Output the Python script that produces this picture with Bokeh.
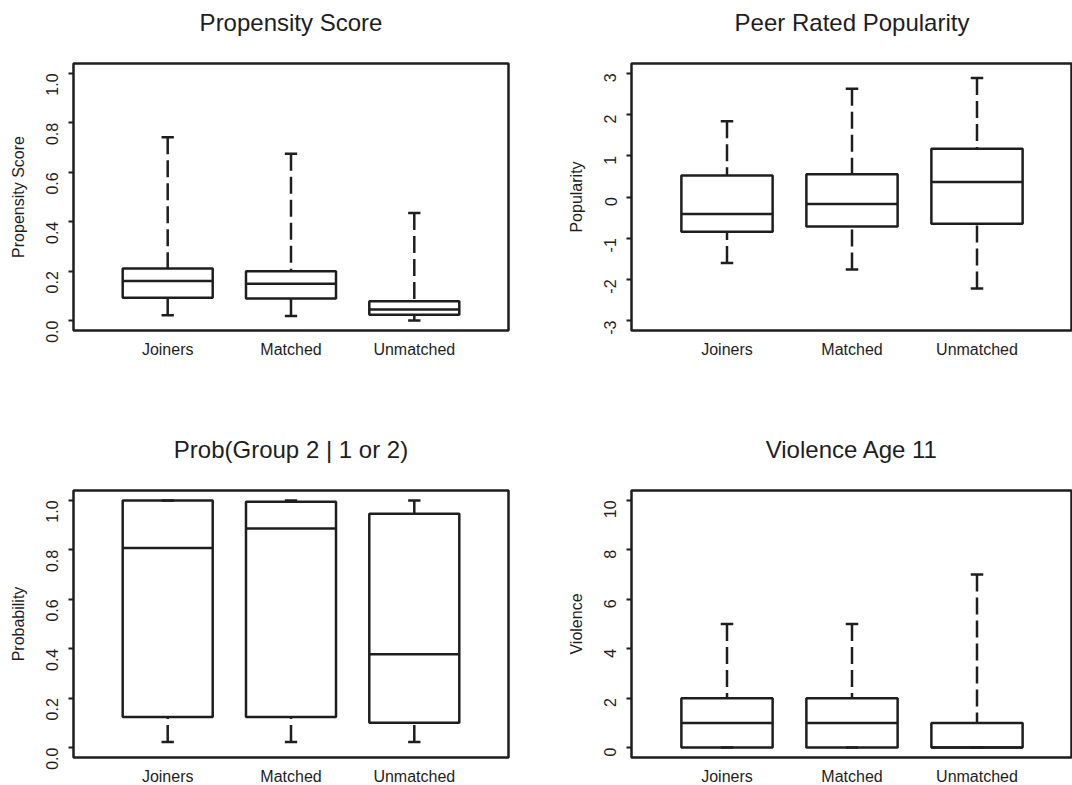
import math
from bokeh.plotting import figure
from bokeh.layouts import column, row
from bokeh.models import FixedTicker, Title
from bokeh.embed import file_html
from bokeh.resources import INLINE

# ---------------- data ----------------
groups = ["Joiners", "Matched", "Unmatched"]
positions = [1, 2, 3]

titles = ["Propensity Score", "Peer Rated Popularity", "Prob(Group 2 | 1 or 2)", "Violence Age 11"]
ylabels = ["Propensity Score", "Popularity", "Probability", "Violence"]

# five-number summaries (lower whisker, Q1, median, Q3, upper whisker)
prop_low = [0.022, 0.019, 0.000]
prop_q1 = [0.092, 0.089, 0.024]
prop_med = [0.160, 0.149, 0.045]
prop_q3 = [0.211, 0.200, 0.078]
prop_up = [0.742, 0.675, 0.435]

pop_low = [-1.60, -1.76, -2.22]
pop_q1 = [-0.846, -0.715, -0.65]
pop_med = [-0.415, -0.171, 0.366]
pop_q3 = [0.52, 0.553, 1.17]
pop_up = [1.84, 2.63, 2.89]

prob_low = [0.023, 0.023, 0.023]
prob_q1 = [0.124, 0.124, 0.101]
prob_med = [0.807, 0.886, 0.378]
prob_q3 = [1.0, 0.995, 0.946]
prob_up = [1.0, 1.0, 1.0]

vio_low = [0, 0, 0]
vio_q1 = [0, 0, 0]
vio_med = [1, 1, 0]
vio_q3 = [2, 2, 1]
vio_up = [5, 5, 7]

ticks_prop = [0.0, 0.2, 0.4, 0.6, 0.8, 1.0]
labels_prop = ["0.0", "0.2", "0.4", "0.6", "0.8", "1.0"]
ticks_pop = [-3, -2, -1, 0, 1, 2, 3]
labels_pop = ["-3", "-2", "-1", "0", "1", "2", "3"]
ticks_prob = [0.0, 0.2, 0.4, 0.6, 0.8, 1.0]
labels_prob = ["0.0", "0.2", "0.4", "0.6", "0.8", "1.0"]
ticks_vio = [0, 2, 4, 6, 8, 10]
labels_vio = ["0", "2", "4", "6", "8", "10"]

yranges = [(-0.04, 1.04), (-3.24, 3.24), (-0.04, 1.04), (-0.4, 10.4)]
xrange_all = (0.236, 3.764)

# ---------------- styling ----------------
FONT = "Liberation Sans"
INK = "#1e1e1e"
LW = 2.5
HALF_BOX = 0.365
HALF_STAPLE = 0.05
DASH = "17 6"


def make_panel(title, ylabel, low, q1, med, q3, up, ticks, tlabels, yr,
               frame_w, frame_h, bl, br, bt, bb):
    p = figure(frame_width=frame_w, frame_height=frame_h,
               x_range=xrange_all, y_range=yr,
               min_border_left=bl, min_border_right=br,
               min_border_top=bt, min_border_bottom=bb,
               output_backend="svg", toolbar_location=None,
               background_fill_color="white", border_fill_color="white")
    p.grid.visible = False
    p.outline_line_color = INK
    p.outline_line_width = LW

    # a blank second line lifts the title away from the frame (as in R's layout)
    p.title = Title(text=title + "\n ", align="center", text_font=FONT, text_font_size="24px",
                    text_font_style="normal", text_color=INK, text_line_height=1.0,
                    standoff=2, vertical_align="bottom")

    # boxes
    left = [x - HALF_BOX for x in positions]
    right = [x + HALF_BOX for x in positions]
    p.quad(left=left, right=right, bottom=q1, top=q3,
           fill_color="white", line_color=INK, line_width=LW)
    # medians
    p.segment(x0=left, x1=right, y0=med, y1=med, line_color=INK, line_width=LW)
    # whiskers: drawn from the whisker end toward the box (as R does)
    p.segment(x0=positions, x1=positions, y0=up, y1=q3,
              line_color=INK, line_width=LW, line_dash=DASH)
    p.segment(x0=positions, x1=positions, y0=low, y1=q1,
              line_color=INK, line_width=LW, line_dash=DASH)
    # staples
    sl = [x - HALF_STAPLE for x in positions]
    sr = [x + HALF_STAPLE for x in positions]
    p.segment(x0=sl, x1=sr, y0=up, y1=up, line_color=INK, line_width=LW)
    p.segment(x0=sl, x1=sr, y0=low, y1=low, line_color=INK, line_width=LW)

    # y axis
    ya = p.yaxis[0]
    ya.ticker = FixedTicker(ticks=ticks)
    ya.major_label_overrides = {tk: lb for tk, lb in zip(ticks, tlabels)}
    ya.major_label_orientation = math.pi / 2
    ya.axis_line_color = None
    ya.major_tick_line_color = INK
    ya.major_tick_line_width = 2
    ya.major_tick_out = 5
    ya.major_tick_in = 0
    ya.minor_tick_line_color = None
    ya.minor_tick_out = 0
    ya.major_label_text_font = FONT
    ya.major_label_text_font_size = "16px"
    ya.major_label_text_color = INK
    ya.major_label_standoff = 16
    ya.axis_label = ylabel
    ya.axis_label_text_font = FONT
    ya.axis_label_text_font_size = "16px"
    ya.axis_label_text_font_style = "normal"
    ya.axis_label_text_color = INK
    ya.axis_label_standoff = 11

    # x axis
    xa = p.xaxis[0]
    xa.ticker = FixedTicker(ticks=positions)
    xa.major_label_overrides = {x: g for x, g in zip(positions, groups)}
    xa.axis_line_color = None
    xa.major_tick_line_color = None
    xa.major_tick_out = 0
    xa.major_tick_in = 0
    xa.minor_tick_line_color = None
    xa.minor_tick_out = 0
    xa.major_label_text_font = FONT
    xa.major_label_text_font_size = "16px"
    xa.major_label_text_color = INK
    xa.major_label_standoff = 10
    return p


data = [
    (prop_low, prop_q1, prop_med, prop_q3, prop_up, ticks_prop, labels_prop),
    (pop_low, pop_q1, pop_med, pop_q3, pop_up, ticks_pop, labels_pop),
    (prob_low, prob_q1, prob_med, prob_q3, prob_up, ticks_prob, labels_prob),
    (vio_low, vio_q1, vio_med, vio_q3, vio_up, ticks_vio, labels_vio),
]

FH = 267
geom = [
    # frame_w, border left, right, top, bottom
    (435, 73, 52, 63, 97),
    (441, 71, 0, 63, 97),
    (435, 73, 52, 63, 28),
    (441, 71, 0, 63, 28),
]

panels = []
for i in range(4):
    low, q1, med, q3, up, tk, tl = data[i]
    fw, bl, br, bt, bb = geom[i]
    panels.append(make_panel(titles[i], ylabels[i], low, q1, med, q3, up, tk, tl,
                             yranges[i], fw, FH, bl, br, bt, bb))

layout = column(row(panels[0], panels[1]), row(panels[2], panels[3]))

open("out.html", "w").write(file_html(layout, INLINE))
